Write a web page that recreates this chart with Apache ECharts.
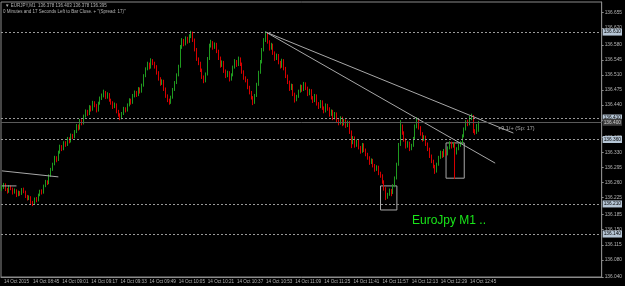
<!DOCTYPE html>
<html>
<head>
<meta charset="utf-8">
<script src="https://cdn.jsdelivr.net/npm/echarts@6/dist/echarts.min.js"></script>
<style>
  html, body { margin: 0; padding: 0; background: #000; }
  #chart { width: 625px; height: 286px; }
</style>
</head>
<body>
<div id="chart"></div>
<script>
// EURJPY M1 bars, [open, close, low, high], first bar 08:29
const ohlc = [
  [136.244,136.248,136.240,136.254],[136.248,136.255,136.245,136.259],[136.255,136.244,136.240,136.258],[136.244,136.238,136.234,136.247],
  [136.238,136.250,136.236,136.254],[136.250,136.246,136.242,136.253],[136.246,136.236,136.232,136.248],[136.236,136.242,136.234,136.246],
  [136.242,136.230,136.226,136.244],[136.230,136.238,136.228,136.241],[136.238,136.233,136.229,136.240],[136.233,136.244,136.231,136.247],
  [136.244,136.239,136.235,136.248],[136.239,136.228,136.224,136.241],[136.228,136.222,136.218,136.231],[136.222,136.226,136.219,136.230],
  [136.226,136.214,136.210,136.228],[136.214,136.210,136.205,136.217],[136.210,136.222,136.208,136.225],[136.222,136.218,136.214,136.226],
  [136.218,136.231,136.216,136.234],[136.231,136.240,136.228,136.243],[136.240,136.236,136.232,136.244],[136.236,136.252,136.234,136.255],
  [136.252,136.262,136.249,136.266],[136.262,136.258,136.254,136.265],[136.258,136.276,136.256,136.279],[136.276,136.290,136.273,136.294],
  [136.290,136.302,136.287,136.306],[136.302,136.318,136.300,136.322],[136.318,136.312,136.307,136.321],[136.312,136.330,136.310,136.334],
  [136.330,136.344,136.327,136.348],[136.344,136.338,136.333,136.347],[136.338,136.352,136.335,136.356],[136.352,136.348,136.343,136.356],
  [136.348,136.362,136.345,136.366],[136.362,136.356,136.351,136.365],[136.356,136.370,136.353,136.374],[136.370,136.366,136.361,136.373],
  [136.366,136.378,136.363,136.382],[136.378,136.392,136.375,136.396],[136.392,136.386,136.381,136.395],[136.386,136.404,136.383,136.408],
  [136.404,136.398,136.393,136.407],[136.398,136.414,136.395,136.418],[136.414,136.426,136.411,136.430],[136.426,136.420,136.415,136.429],
  [136.420,136.436,136.417,136.440],[136.436,136.430,136.425,136.439],[136.430,136.446,136.427,136.450],[136.446,136.440,136.435,136.449],
  [136.440,136.428,136.423,136.443],[136.428,136.444,136.425,136.448],[136.444,136.456,136.441,136.460],[136.456,136.462,136.452,136.467],
  [136.462,136.470,136.458,136.476],[136.470,136.458,136.454,136.473],[136.458,136.466,136.455,136.470],[136.466,136.452,136.448,136.468],
  [136.452,136.446,136.441,136.455],[136.446,136.436,136.431,136.449],[136.436,136.442,136.433,136.446],[136.442,136.426,136.421,136.444],
  [136.426,136.418,136.413,136.429],[136.418,136.410,136.405,136.421],[136.410,136.420,136.407,136.424],[136.420,136.432,136.417,136.436],
  [136.432,136.428,136.423,136.435],[136.428,136.440,136.425,136.444],[136.440,136.452,136.437,136.456],[136.452,136.446,136.441,136.455],
  [136.446,136.462,136.443,136.466],[136.462,136.470,136.458,136.474],[136.470,136.464,136.459,136.473],[136.464,136.478,136.461,136.482],
  [136.478,136.472,136.467,136.481],[136.472,136.486,136.469,136.490],[136.486,136.508,136.483,136.512],[136.508,136.524,136.505,136.528],
  [136.524,136.536,136.521,136.541],[136.536,136.528,136.523,136.539],[136.528,136.544,136.525,136.549],[136.544,136.538,136.533,136.547],
  [136.538,136.530,136.525,136.541],[136.530,136.516,136.511,136.533],[136.516,136.502,136.497,136.519],[136.502,136.490,136.485,136.505],
  [136.490,136.496,136.487,136.500],[136.496,136.478,136.473,136.499],[136.478,136.462,136.457,136.481],[136.462,136.452,136.447,136.465],
  [136.452,136.446,136.441,136.455],[136.446,136.458,136.443,136.462],[136.458,136.476,136.455,136.480],[136.476,136.492,136.473,136.496],
  [136.492,136.510,136.489,136.514],[136.510,136.530,136.507,136.534],[136.530,136.574,136.527,136.580],[136.574,136.590,136.571,136.596],
  [136.590,136.582,136.577,136.594],[136.582,136.596,136.579,136.600],[136.596,136.588,136.583,136.599],[136.588,136.600,136.585,136.605],
  [136.600,136.608,136.596,136.613],[136.608,136.592,136.587,136.611],[136.592,136.570,136.565,136.595],[136.570,136.548,136.543,136.573],
  [136.548,136.538,136.533,136.551],[136.538,136.522,136.517,136.541],[136.522,136.506,136.501,136.525],[136.506,136.496,136.491,136.509],
  [136.496,136.512,136.493,136.516],[136.512,136.548,136.509,136.552],[136.548,136.578,136.545,136.583],[136.578,136.586,136.574,136.592],
  [136.586,136.574,136.569,136.589],[136.574,136.582,136.571,136.586],[136.582,136.566,136.561,136.585],[136.566,136.550,136.545,136.569],
  [136.550,136.532,136.527,136.553],[136.532,136.540,136.529,136.544],[136.540,136.520,136.515,136.543],[136.520,136.508,136.503,136.523],
  [136.508,136.516,136.505,136.520],[136.516,136.500,136.495,136.519],[136.500,136.510,136.497,136.514],[136.510,136.528,136.507,136.532],
  [136.528,136.542,136.525,136.547],[136.542,136.534,136.529,136.545],[136.534,136.548,136.531,136.553],[136.548,136.536,136.531,136.551],
  [136.536,136.518,136.513,136.539],[136.518,136.504,136.499,136.521],[136.504,136.498,136.493,136.507],[136.498,136.482,136.477,136.501],
  [136.482,136.470,136.465,136.485],[136.470,136.458,136.453,136.473],[136.458,136.446,136.440,136.461],[136.446,136.462,136.443,136.466],
  [136.462,136.488,136.459,136.492],[136.488,136.516,136.485,136.520],[136.516,136.540,136.513,136.545],[136.540,136.568,136.537,136.573],
  [136.568,136.590,136.565,136.596],[136.590,136.604,136.587,136.612],[136.604,136.588,136.583,136.608],[136.588,136.572,136.567,136.591],
  [136.572,136.580,136.569,136.585],[136.580,136.562,136.557,136.583],[136.562,136.548,136.543,136.565],[136.548,136.556,136.545,136.560],
  [136.556,136.540,136.535,136.559],[136.540,136.530,136.525,136.543],[136.530,136.544,136.527,136.548],[136.544,136.526,136.521,136.547],
  [136.526,136.508,136.503,136.529],[136.508,136.494,136.489,136.511],[136.494,136.478,136.473,136.497],[136.478,136.486,136.475,136.490],
  [136.486,136.466,136.461,136.489],[136.466,136.452,136.446,136.469],[136.452,136.460,136.449,136.464],[136.460,136.472,136.457,136.476],
  [136.472,136.484,136.469,136.488],[136.484,136.476,136.471,136.487],[136.476,136.490,136.473,136.494],[136.490,136.480,136.475,136.493],
  [136.480,136.466,136.461,136.483],[136.466,136.474,136.463,136.478],[136.474,136.458,136.453,136.477],[136.458,136.450,136.445,136.461],
  [136.450,136.462,136.447,136.466],[136.462,136.444,136.439,136.465],[136.444,136.436,136.431,136.447],[136.436,136.448,136.433,136.452],
  [136.448,136.434,136.429,136.451],[136.434,136.426,136.421,136.437],[136.426,136.440,136.423,136.444],[136.440,136.432,136.427,136.443],
  [136.432,136.418,136.413,136.435],[136.418,136.426,136.415,136.430],[136.426,136.410,136.405,136.429],[136.410,136.420,136.407,136.424],
  [136.420,136.404,136.399,136.423],[136.404,136.398,136.393,136.407],[136.398,136.410,136.395,136.414],[136.410,136.396,136.391,136.413],
  [136.396,136.404,136.393,136.408],[136.404,136.392,136.387,136.407],[136.392,136.400,136.389,136.404],[136.400,136.378,136.373,136.403],
  [136.378,136.352,136.340,136.381],[136.352,136.364,136.349,136.368],[136.364,136.346,136.341,136.367],[136.346,136.356,136.343,136.360],
  [136.356,136.342,136.337,136.359],[136.342,136.332,136.327,136.345],[136.332,136.348,136.329,136.352],[136.348,136.336,136.331,136.351],
  [136.336,136.326,136.321,136.339],[136.326,136.318,136.313,136.329],[136.318,136.306,136.301,136.321],[136.306,136.312,136.303,136.316],
  [136.312,136.300,136.295,136.315],[136.300,136.290,136.285,136.303],[136.290,136.296,136.287,136.300],[136.296,136.282,136.277,136.299],
  [136.282,136.276,136.271,136.285],[136.276,136.262,136.257,136.279],[136.262,136.246,136.241,136.265],[136.246,136.226,136.219,136.249],
  [136.226,136.232,136.222,136.236],[136.232,136.242,136.229,136.246],[136.242,136.236,136.228,136.245],[136.236,136.252,136.233,136.256],
  [136.252,136.270,136.249,136.274],[136.270,136.302,136.267,136.306],[136.302,136.348,136.299,136.352],[136.348,136.392,136.345,136.405],
  [136.392,136.376,136.371,136.395],[136.376,136.360,136.355,136.379],[136.360,136.344,136.339,136.363],[136.344,136.352,136.341,136.356],
  [136.352,136.338,136.333,136.355],[136.338,136.346,136.335,136.350],[136.346,136.362,136.343,136.366],[136.362,136.390,136.359,136.395],
  [136.390,136.404,136.386,136.412],[136.404,136.388,136.383,136.407],[136.388,136.374,136.369,136.391],[136.374,136.360,136.355,136.377],
  [136.360,136.366,136.357,136.370],[136.366,136.350,136.345,136.369],[136.350,136.338,136.333,136.353],[136.338,136.322,136.317,136.341],
  [136.322,136.310,136.305,136.325],[136.310,136.298,136.293,136.313],[136.298,136.286,136.280,136.301],[136.286,136.302,136.283,136.306],
  [136.302,136.318,136.299,136.322],[136.318,136.330,136.315,136.334],[136.330,136.322,136.317,136.333],[136.322,136.334,136.319,136.338],
  [136.334,136.326,136.321,136.337],[136.326,136.340,136.323,136.344],[136.340,136.352,136.337,136.356],[136.352,136.344,136.339,136.355],
  [136.344,136.350,136.341,136.354],[136.350,136.328,136.268,136.353],[136.328,136.338,136.325,136.342],[136.338,136.346,136.335,136.350],
  [136.346,136.352,136.343,136.356],[136.352,136.368,136.349,136.372],[136.368,136.384,136.365,136.388],[136.384,136.400,136.381,136.405],
  [136.400,136.396,136.391,136.406],[136.396,136.410,136.393,136.415],[136.410,136.414,136.405,136.420],[136.414,136.380,136.375,136.417],
  [136.380,136.376,136.371,136.384],[136.376,136.392,136.373,136.396],[136.378,136.395,136.378,136.403]
];

const startMinute = 8 * 60 + 29;   // 08:29
const totalSlots = 330;            // chart shift leaves empty space on the right
const priceLabels = [136.655, 136.620, 136.580, 136.545, 136.510, 136.475, 136.440, 136.405, 136.365,
  136.330, 136.295, 136.260, 136.225, 136.185, 136.150, 136.115, 136.080, 136.040];
const hLevels = [136.606, 136.411, 136.357, 136.210, 136.143];
const bidPrice = 136.395;
// trend lines: [barIndex, price] pairs
const trendUpper = [[145, 136.610], [281, 136.375]];
const trendLower = [[145, 136.610], [271, 136.305]];
const shortLines = [[[0, 136.287], [31, 136.273]], [[0, 136.252], [8, 136.252]]];
const boxes = [[208, 136.252, 217, 136.196], [244, 136.352, 254, 136.270]];

const times = [];
for (let i = 0; i < totalSlots; i++) {
  const m = startMinute + i;
  times.push(String(Math.floor(m / 60)).padStart(2, '0') + ':' + String(m % 60).padStart(2, '0'));
}

const chart = echarts.init(document.getElementById('chart'));
const axisGray = '#8a8a8a';
const txt = '#b4b4b4';
const font = 'Liberation Sans';
const tickAt = (idx) => idx % 16 === 0 && idx < ohlc.length;

const lineSeries = (data) => ({
  type: 'line', data, symbol: 'none', silent: true, animation: false,
  lineStyle: { color: '#a8a8a8', width: 1 }
});

chart.setOption({
  backgroundColor: '#000',
  animation: false,
  grid: { left: 1, right: 20, top: 2, bottom: 9, show: true, borderColor: axisGray, borderWidth: 1 },
  xAxis: {
    type: 'category',
    data: times,
    boundaryGap: true,
    axisLine: { lineStyle: { color: axisGray } },
    axisTick: { interval: tickAt, alignWithLabel: true, length: 6, lineStyle: { color: axisGray } },
    axisLabel: {
      interval: tickAt, align: 'left', margin: 2, padding: [0, 0, 0, 2],
      fontSize: 4.6, fontFamily: font, color: txt,
      formatter: (v, idx) => idx === 0 ? '14 Oct 2015' : '14 Oct ' + v
    },
    splitLine: { show: false }
  },
  yAxis: {
    type: 'value',
    position: 'right',
    min: 136.040, max: 136.680,
    axisLine: { show: true, lineStyle: { color: axisGray } },
    axisTick: { show: true, customValues: priceLabels, length: 2, lineStyle: { color: axisGray } },
    axisLabel: {
      customValues: priceLabels, margin: 3, fontSize: 4.8, fontFamily: font, color: txt,
      formatter: (v) => v.toFixed(3)
    },
    splitLine: { show: false }
  },
  series: [
    {
      type: 'candlestick',
      data: ohlc,
      barWidth: 1,
      itemStyle: {
        color: '#1f9a1f', color0: '#d60000',
        borderColor: '#1f9a1f', borderColor0: '#d60000', borderWidth: 1
      },
      markLine: {
        silent: true, symbol: 'none', animation: false,
        data: hLevels.map((v) => ({
          yAxis: v,
          lineStyle: { color: '#9a9a9a', type: [2, 2], width: 1 },
          label: { backgroundColor: '#b6c6d6', color: '#000' }
        })).concat([{
          yAxis: bidPrice,
          lineStyle: { color: '#5a5a5a', type: 'solid', width: 1 },
          label: { backgroundColor: '#3c3c3c', color: '#d0d0d0' }
        }]),
        label: {
          position: 'end', distance: 1, fontSize: 4.8, fontFamily: font,
          padding: [1, 1], formatter: (p) => p.value.toFixed(3)
        }
      },
      markArea: {
        silent: true,
        itemStyle: { color: 'rgba(0,0,0,0)', borderColor: '#a8a8a8', borderWidth: 1 },
        data: boxes.map((b) => [{ xAxis: b[0], yAxis: b[1] }, { xAxis: b[2], yAxis: b[3] }])
      }
    },
    lineSeries(trendUpper),
    lineSeries(trendLower),
    lineSeries(shortLines[0]),
    lineSeries(shortLines[1])
  ],
  graphic: [
    { type: 'text', left: 5, top: 3, style: { text: '\u25BC EURJPY,M1  136.378 136.403 136.378 136.395', fill: txt, font: '4.5px "Liberation Sans"' } },
    { type: 'text', left: 3, top: 9, style: { text: '0 Minutes and 17 Seconds Left to Bar Close. + "(Spread: 17)"', fill: txt, font: '4.5px "Liberation Sans"' } },
    { type: 'text', left: 498, top: 125, style: { text: '+9.1/+ (Sp: 17)', fill: '#a8a8a8', font: '5.5px "Liberation Sans"' } },
    { type: 'text', left: 412, top: 215, style: { text: 'EuroJpy M1 ..', fill: '#19e619', font: '12px "Liberation Sans"' } }
  ]
});
</script>
</body>
</html>
